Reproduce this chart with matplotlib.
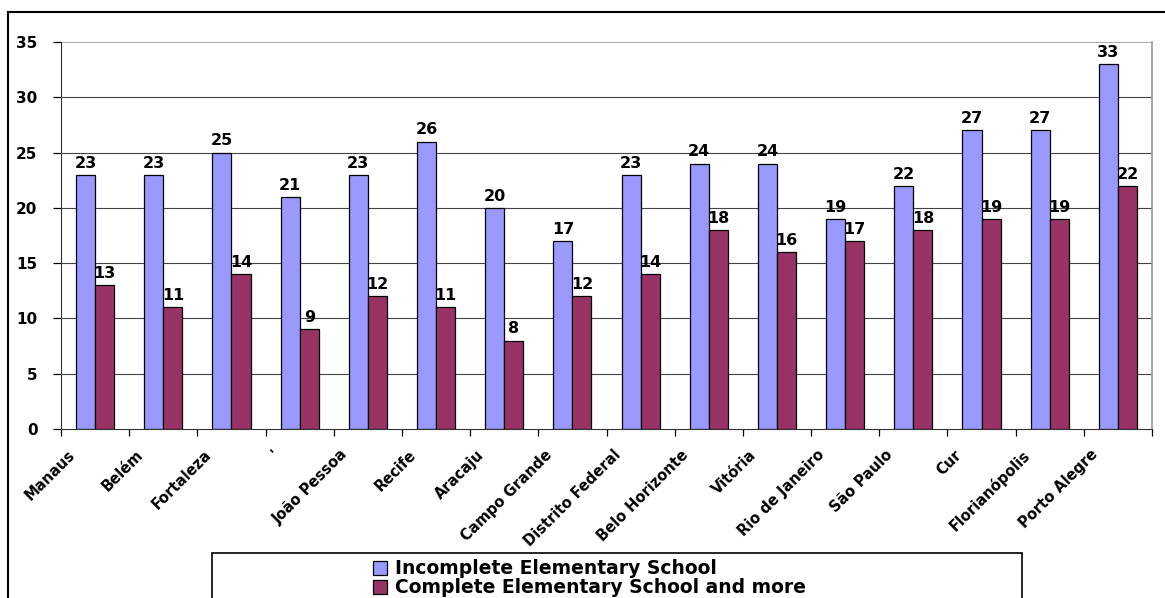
import numpy as np
import matplotlib
matplotlib.use("Agg")
from matplotlib import pyplot as plt
from matplotlib.patches import Rectangle
from matplotlib.transforms import offset_copy, blended_transform_factory

cities = ["Manaus", "Belém", "Fortaleza", "'", "João Pessoa", "Recife", "Aracaju",
          "Campo Grande", "Distrito Federal", "Belo Horizonte", "Vitória",
          "Rio de Janeiro", "São Paulo", "Cur", "Florianópolis", "Porto Alegre"]
incomplete = [23, 23, 25, 21, 23, 26, 20, 17, 23, 24, 24, 19, 22, 27, 27, 33]
complete = [13, 11, 14, 9, 12, 11, 8, 12, 14, 18, 16, 17, 18, 19, 19, 22]
series_names = ["Incomplete Elementary School", "Complete Elementary School and more"]
yticks = [0, 5, 10, 15, 20, 25, 30, 35]

plt.rcParams['font.family'] = ['DejaVu Sans']
plt.rcParams['font.weight'] = 'bold'

W, H = 1165, 598
fig = plt.figure(figsize=(W / 100, H / 100), dpi=100)
ax = fig.add_axes([61 / W, 1 - 429 / H, (1152 - 61) / W, (429 - 42) / H])

x = np.arange(len(cities))
bw = 0.28
b1 = ax.bar(x - bw / 2, incomplete, bw, color="#9999FF", edgecolor="black", linewidth=0.9,
            label=series_names[0], zorder=3)
b2 = ax.bar(x + bw / 2, complete, bw, color="#993366", edgecolor="black", linewidth=0.9,
            label=series_names[1], zorder=3)
for bars in (b1, b2):
    ax.bar_label(bars, padding=3, fontsize=11.5, fontweight="bold")

ax.set_xlim(-0.5, len(cities) - 0.5)
ax.set_ylim(0, 35)
ax.set_yticks(yticks)
ax.set_yticklabels([str(t) for t in yticks], fontsize=11, fontweight="bold")
for t in yticks[1:-1]:
    ax.axhline(t, color="#444444", lw=0.8, zorder=1)
ax.axhline(35, color="#999999", lw=1.2, zorder=1)

# category labels, slanted and pulled left like the original
ax.set_xticks(np.arange(len(cities) + 1) - 0.5)
ax.set_xticklabels([])
lab_tr = offset_copy(blended_transform_factory(ax.transData, ax.transAxes),
                     fig=fig, x=-28, y=-18, units="dots")
for i, name in enumerate(cities):
    ax.text(i, 0, name, transform=lab_tr, rotation=45, ha="right", va="top",
            rotation_mode="anchor", fontsize=10.5, fontweight="bold")
ax.tick_params(axis="x", length=5, direction="out", width=0.9)
ax.tick_params(axis="y", length=6, direction="out", width=0.9, pad=11)

ax.spines["top"].set_visible(False)
ax.spines["right"].set_color("#999999")
ax.spines["right"].set_linewidth(1.2)
ax.spines["left"].set_color("#333333")
ax.spines["bottom"].set_color("#333333")

# outer chart frame
fig.patches.append(Rectangle((8 / W, -0.2), 1.2, 1.2 - 12 / H, transform=fig.transFigure,
                             fill=False, edgecolor="black", lw=1.5))
# legend box
fig.patches.append(Rectangle((212 / W, -0.2), (1022 - 212) / W, 0.2 + 1 - 553 / H,
                             transform=fig.transFigure, fill=False, edgecolor="black", lw=1.2))
fig.legend(loc="upper left", bbox_to_anchor=(362 / W, 1 - 548 / H), frameon=False,
           handlelength=0.75, handleheight=0.75, handletextpad=0.4, labelspacing=0.0,
           borderpad=0.1, prop={"size": 13.5, "weight": "bold"})

fig.savefig("out.png", dpi=100)
